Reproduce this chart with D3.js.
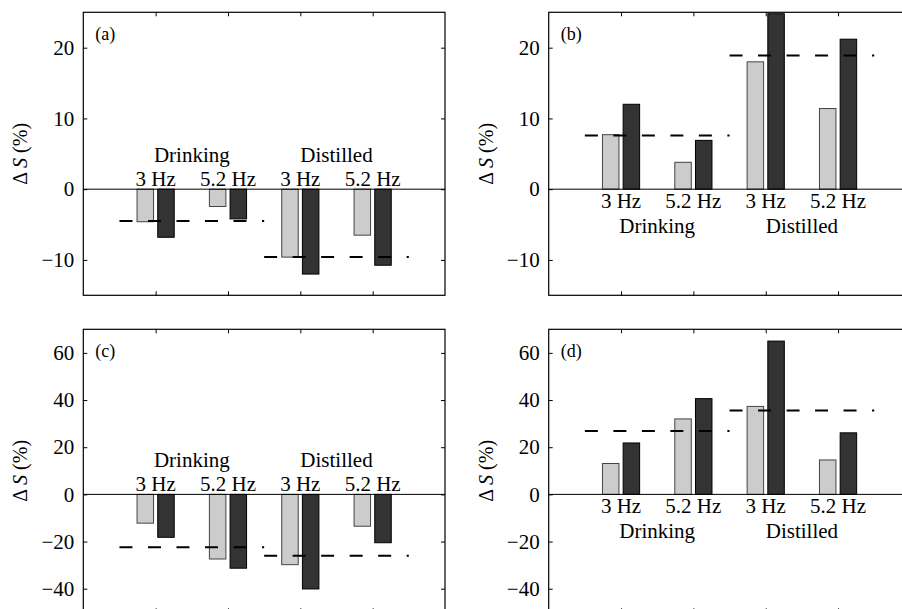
<!DOCTYPE html>
<html>
<head>
<meta charset="utf-8">
<script src="https://cdn.jsdelivr.net/npm/d3@7"></script>
<style>
  body { margin: 0; background: #fff; }
  svg { display: block; font-family: "Liberation Serif", "Times New Roman", serif; }
  svg text { font-family: "Liberation Serif", "Times New Roman", serif; }
</style>
</head>
<body>
<div id="chart"></div>
<script>
// categories
const groups = ["Drinking", "Distilled"];
const freqs = ["3 Hz", "5.2 Hz", "3 Hz", "5.2 Hz"];
const panelLabels = ["(a)", "(b)", "(c)", "(d)"];

// tick values
const ticksTop = [-10, 0, 10, 20];
const ticksBottom = [-40, -20, 0, 20, 40, 60];

// series values (light bar, dark bar) per panel, order: Drinking 3, Drinking 5.2, Distilled 3, Distilled 5.2
const lightA = [-4.6, -2.45, -9.6, -6.5];
const darkA  = [-6.8, -4.2, -12.0, -10.75];
const meanA  = [-4.5, -9.6];

const lightB = [7.7, 3.8, 18.0, 11.4];
const darkB  = [12.0, 6.9, 24.8, 21.2];
const meanB  = [7.6, 18.9];

const lightC = [-12.2, -27.4, -29.8, -13.5];
const darkC  = [-18.2, -31.3, -40.1, -20.5];
const meanC  = [-22.4, -26.0];

const lightD = [13.1, 32.0, 37.3, 14.6];
const darkD  = [21.8, 40.6, 65.0, 26.1];
const meanD  = [26.9, 35.6];

const W = 902, H = 609;
const pw = 361.7, ph = 283;

const panels = [
  {label: panelLabels[0], x0: 83.3,  y0: 12.3,  domain: [-15, 25], ticks: ticksTop,    light: lightA, dark: darkA, mean: meanA, above: true},
  {label: panelLabels[1], x0: 548.7, y0: 12.3,  domain: [-15, 25], ticks: ticksTop,    light: lightB, dark: darkB, mean: meanB, above: false},
  {label: panelLabels[2], x0: 83.3,  y0: 329.3, domain: [-50, 70], ticks: ticksBottom, light: lightC, dark: darkC, mean: meanC, above: true},
  {label: panelLabels[3], x0: 548.7, y0: 329.3, domain: [-50, 70], ticks: ticksBottom, light: lightD, dark: darkD, mean: meanD, above: false}
];

const svg = d3.select("#chart").append("svg")
  .attr("width", W)
  .attr("height", H);

const barOff = 0.143, barW = 0.228;
const serif = "Liberation Serif, Times New Roman, serif";

panels.forEach(function(p) {
  const x = d3.scaleLinear().domain([0, 5]).range([0, pw]);
  const y = d3.scaleLinear().domain(p.domain).range([ph, 0]);

  const g = svg.append("g")
    .attr("transform", "translate(" + p.x0 + "," + p.y0 + ")");

  // bars
  const pos = [1, 2, 3, 4];
  g.selectAll(".light").data(p.light).enter().append("rect")
    .attr("x", (d, i) => x(pos[i] - barOff - barW / 2))
    .attr("width", x(barW) - x(0))
    .attr("y", d => y(Math.max(0, d)))
    .attr("height", d => Math.abs(y(d) - y(0)))
    .attr("fill", "#cccccc")
    .attr("stroke", "#444")
    .attr("stroke-width", 1);

  g.selectAll(".dark").data(p.dark).enter().append("rect")
    .attr("x", (d, i) => x(pos[i] + barOff - barW / 2))
    .attr("width", x(barW) - x(0))
    .attr("y", d => y(Math.max(0, d)))
    .attr("height", d => Math.abs(y(d) - y(0)))
    .attr("fill", "#333333")
    .attr("stroke", "#000")
    .attr("stroke-width", 1);

  // zero line
  g.append("line")
    .attr("x1", 0).attr("x2", pw)
    .attr("y1", y(0)).attr("y2", y(0))
    .attr("stroke", "#000").attr("stroke-width", 1);

  // dashed group means
  g.selectAll(".mean").data(p.mean).enter().append("line")
    .attr("x1", (d, i) => x(0.5 + 2 * i))
    .attr("x2", (d, i) => x(2.5 + 2 * i))
    .attr("y1", d => y(d)).attr("y2", d => y(d))
    .attr("stroke", "#000")
    .attr("stroke-width", 2)
    .attr("stroke-dasharray", "13,15.5");

  // box
  g.append("rect")
    .attr("width", pw).attr("height", ph)
    .attr("fill", "none").attr("stroke", "#000").attr("stroke-width", 1.2);

  // y axis (labels left, ticks inward)
  const yAxis = g.append("g")
    .call(d3.axisLeft(y).tickValues(p.ticks).tickSize(-4).tickPadding(9))
    .attr("font-family", serif)
    .attr("font-size", 21);
  yAxis.select(".domain").remove();

  g.append("g")
    .attr("transform", "translate(" + pw + ",0)")
    .call(d3.axisRight(y).tickValues(p.ticks).tickSize(-4).tickFormat(""))
    .select(".domain").remove();

  // x ticks, inward top and bottom
  g.append("g")
    .attr("transform", "translate(0," + ph + ")")
    .call(d3.axisBottom(x).tickValues(pos).tickSize(-4).tickFormat(""))
    .select(".domain").remove();
  g.append("g")
    .call(d3.axisTop(x).tickValues(pos).tickSize(-4).tickFormat(""))
    .select(".domain").remove();

  // category labels
  const fy = p.above ? y(0) - 3.5 : y(0) + 19;
  const gy = p.above ? y(0) - 27 : y(0) + 44;
  g.selectAll(".freq").data(freqs).enter().append("text")
    .attr("x", (d, i) => x(pos[i]))
    .attr("y", fy)
    .attr("text-anchor", "middle")
    .attr("font-size", 21)
    .text(d => d);
  g.selectAll(".grp").data(groups).enter().append("text")
    .attr("x", (d, i) => x(1.5 + 2 * i))
    .attr("y", gy)
    .attr("text-anchor", "middle")
    .attr("font-size", 21)
    .text(d => d);

  // panel label
  g.append("text")
    .attr("x", 12).attr("y", 28)
    .attr("font-size", 18)
    .text(p.label);

  // y label
  const yl = g.append("text")
    .attr("transform", "translate(-56," + (ph / 2) + ") rotate(-90)")
    .attr("text-anchor", "middle")
    .attr("font-size", 20);
  yl.append("tspan").text("\u0394 ");
  yl.append("tspan").attr("font-style", "italic").text("S");
  yl.append("tspan").text(" (%)");
});
</script>
</body>
</html>
